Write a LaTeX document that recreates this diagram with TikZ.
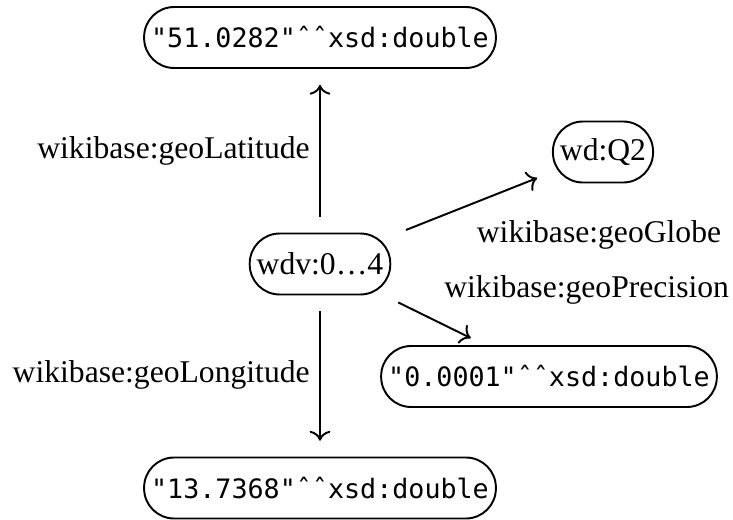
\documentclass[tikz,border=0pt]{standalone}
\usepackage{fontspec}
\setmainfont{Liberation Serif}
\setmonofont{DejaVu Sans Mono}
\usetikzlibrary{arrows.meta}
\tikzset{
  valbox/.style={draw, rectangle, rounded corners=0.6cm, minimum height=1.22cm,
    inner xsep=4pt, line width=1.1pt, font=\fontsize{18}{22}\selectfont},
  monobox/.style={valbox, font=\fontsize{15.2}{18}\selectfont\ttfamily},
  predlabel/.style={font=\fontsize{18}{22}\selectfont, inner sep=0pt},
  link/.style={-{To[scale=1.4]}, line width=1.1pt, shorten <=9pt, shorten >=9pt}
}
\begin{document}
\begin{tikzpicture}
    \useasboundingbox (-6.4,5.28) rectangle (8.26,-5.1);

    \node[valbox] (point) at (0,0) {wdv:0\dots4};
    \node[monobox] (lat) at (0,4.53) {"51.0282"ˆˆxsd:double};
    \node[monobox] (lon) at (0,-4.48) {"13.7368"ˆˆxsd:double};
    \node[valbox] (globe) at (5.66,2.24) {wd:Q2};
    \node[monobox] (prec) at (4.58,-2.25) {"0.0001"ˆˆxsd:double};

    \node[predlabel, anchor=base east] (latlabel) at (-0.2,2.12) {wikibase:geoLatitude};
    \node[predlabel, anchor=base east] (lonlabel) at (-0.2,-2.36) {wikibase:geoLongitude};
    \node[predlabel, anchor=base] (globelabel) at (5.58,0.44) {wikibase:geoGlobe};
    \node[predlabel, anchor=base west] (preclabel) at (2.48,-0.66) {wikibase:geoPrecision};

    \draw[link] (point) -- (lat);
    \draw[link] (point) -- (lon);
    \draw[link] (point) -- (globe);
    \draw[link] (point) -- (prec);
\end{tikzpicture}
\end{document}
